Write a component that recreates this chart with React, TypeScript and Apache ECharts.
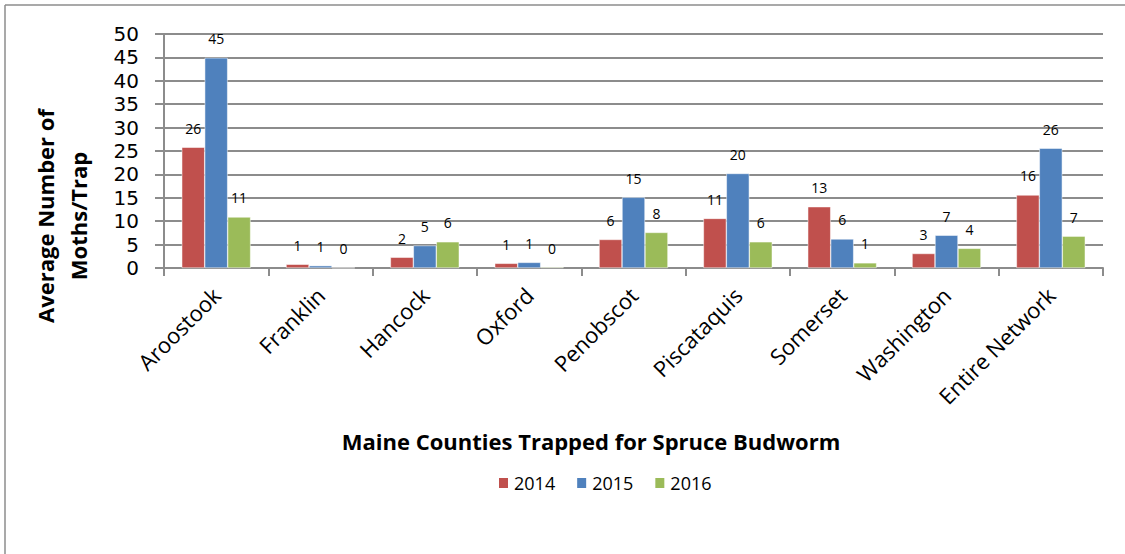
import React, { useEffect, useRef } from "react";
import * as echarts from "echarts";

const categories = ["Aroostook", "Franklin", "Hancock", "Oxford", "Penobscot", "Piscataquis", "Somerset", "Washington", "Entire Network"];
const values2014 = [25.8, 0.8, 2.3, 1.0, 6.1, 10.6, 13.1, 3.1, 15.6];
const values2015 = [44.9, 0.5, 4.8, 1.2, 15.1, 20.2, 6.2, 7.0, 25.6];
const values2016 = [10.9, 0.05, 5.6, 0.2, 7.6, 5.6, 1.1, 4.2, 6.8];
const seriesNames = ["2014", "2015", "2016"];
const colors = ["#C0504D", "#4F81BD", "#9BBB59"];

const FONT = "'Open Sans', sans-serif";

export default function App() {
  const ref = useRef<HTMLDivElement>(null);
  useEffect(() => {
    document.body.style.margin = "0";
    document.body.style.overflow = "hidden";
    const chart = echarts.init(ref.current!, null, { renderer: "svg" });
    const mk = (name: string, data: number[], color: string) => ({
      name,
      type: "bar",
      data,
      barGap: "0%",
      barCategoryGap: "34%",
      itemStyle: { color, borderColor: "#ffffff", borderWidth: 0.5 },
      label: {
        show: true,
        position: "top",
        distance: 12,
        color: "#000",
        fontFamily: FONT,
        fontSize: 14,
        formatter: (p: any) => String(Math.round(p.value)),
      },
    });
    chart.setOption({
      animation: false,
      backgroundColor: "#ffffff",
      color: colors,
      grid: { left: 164, top: 34, width: 939, height: 234 },
      xAxis: {
        type: "category",
        data: categories,
        axisLine: { lineStyle: { color: "#8c8c8c", width: 2 } },
        axisTick: { show: true, length: 8, lineStyle: { color: "#8c8c8c", width: 2 } },
        axisLabel: {
          interval: 0,
          rotate: 45,
          fontSize: 22,
          fontFamily: FONT,
          color: "#000",
          margin: 23,
        },
      },
      yAxis: {
        type: "value",
        min: 0,
        max: 50,
        interval: 5,
        axisLine: { show: true, lineStyle: { color: "#8c8c8c", width: 2 } },
        axisTick: { show: true, length: 9, lineStyle: { color: "#8c8c8c", width: 2 } },
        splitLine: { lineStyle: { color: "#8c8c8c", width: 2 } },
        axisLabel: { fontSize: 20, lineHeight: 20, fontFamily: "'DejaVu Sans', sans-serif", color: "#000", margin: 25 },
      },
      legend: {
        data: seriesNames,
        left: 497,
        top: 474,
        padding: 0,
        icon: "rect",
        itemWidth: 11,
        itemHeight: 12,
        itemGap: 20,
        textStyle: { fontSize: 18, fontFamily: FONT, color: "#000" },
      },
      graphic: [
        {
          type: "rect",
          shape: { x: 1108, y: 7, width: 30, height: 560 },
          style: { fill: "#ffffff" },
          silent: true,
          z: 100,
        },
        {
          type: "line",
          shape: { x1: 5, y1: 5, x2: 1125, y2: 5 },
          style: { stroke: "#8c8c8c", lineWidth: 1.5 },
          silent: true,
        },
        {
          type: "line",
          shape: { x1: 5, y1: 5, x2: 5, y2: 554 },
          style: { stroke: "#8c8c8c", lineWidth: 1.5 },
          silent: true,
        },
        {
          type: "text",
          x: 61,
          y: 216,
          rotation: Math.PI / 2,
          style: {
            text: "Average Number of\nMoths/Trap",
            font: `bold 22px ${FONT}`,
            fill: "#000",
            textAlign: "center",
            textVerticalAlign: "middle",
            lineHeight: 33,
          },
        },
        {
          type: "text",
          x: 591,
          y: 441,
          style: {
            text: "Maine Counties Trapped for Spruce Budworm",
            font: `bold 22px ${FONT}`,
            fill: "#000",
            textAlign: "center",
            textVerticalAlign: "middle",
          },
        },
      ],
      series: [
        mk(seriesNames[0], values2014, colors[0]),
        mk(seriesNames[1], values2015, colors[1]),
        mk(seriesNames[2], values2016, colors[2]),
      ],
    });
    return () => chart.dispose();
  }, []);
  return <div ref={ref} style={{ position: "absolute", left: 0, top: 0, width: 1125, height: 554 }} />;
}
